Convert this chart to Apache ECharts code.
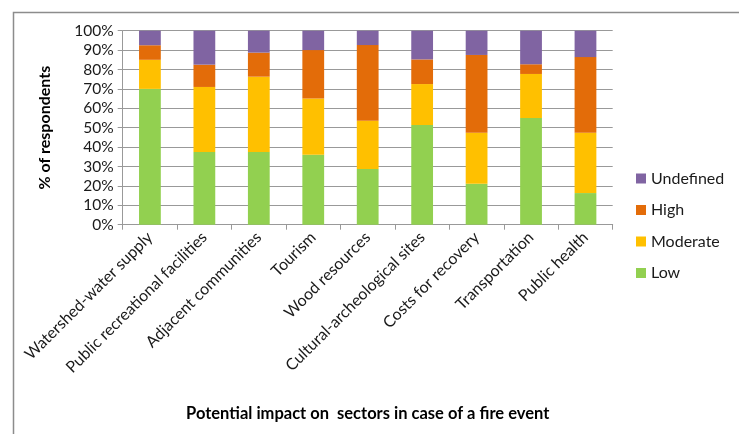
<!DOCTYPE html>
<html>
<head>
<meta charset="utf-8">
<script src="https://cdn.jsdelivr.net/npm/echarts@6/dist/echarts.min.js"></script>
<style>html,body{margin:0;padding:0;background:#fff;}#c{width:739px;height:434px;}</style>
</head>
<body>
<div id="c"></div>
<script>
var categories = ['Watershed-water supply','Public recreational facilities','Adjacent communities','Tourism','Wood resources','Cultural-archeological sites','Costs for recovery','Transportation','Public health'];
var low       = [70, 37.5, 37.5, 36, 28.7, 51.4, 21.1, 55, 16.3];
var moderate  = [15, 33.5, 38.8, 29, 24.9, 21.1, 26.3, 22.7, 31.1];
var high      = [7.5, 11.5, 12.4, 25, 39, 12.7, 40.1, 5, 39];
var undefinedV= [7.5, 17.5, 11.3, 10, 7.4, 14.8, 12.5, 17.3, 13.6];
var seriesNames = ['Low','Moderate','High','Undefined'];
var colors = ['#92D050','#FFC000','#E36C09','#8064A2'];

var chart = echarts.init(document.getElementById('c'));
var font = 'Lato, "Open Sans", sans-serif';
function mk(name, data, color){
  return {name:name, type:'bar', stack:'t', data:data, barWidth:'40%',
    itemStyle:{color:color}, emphasis:{disabled:true}};
}
chart.setOption({
  animation:false,
  textStyle:{fontFamily:font},
  graphic:[{type:'rect', left:11, top:10, shape:{width:800, height:500},
    style:{fill:'none', stroke:'#8c8c8c', lineWidth:1.5}, silent:true}],
  grid:{left:122.7, right:126.3, top:30.7, bottom:209.3, containLabel:false},
  legend:{orient:'vertical', left:636, top:170, padding:0, itemWidth:10, itemHeight:10, itemGap:14.5,
    icon:'rect', data:['Undefined','High','Moderate','Low'],
    textStyle:{fontFamily:font, fontSize:16, color:'#1a1a1a', lineHeight:17}},
  xAxis:{type:'category', data:categories,
    name:'Potential impact on  sectors in case of a fire event', nameLocation:'middle', nameGap:180,
    nameTextStyle:{fontFamily:font, fontWeight:'bold', fontSize:16.5, color:'#000'},
    axisLine:{lineStyle:{color:'#999'}},
    axisTick:{show:true, length:5, lineStyle:{color:'#999'}},
    axisLabel:{rotate:45, interval:0, margin:10, fontFamily:font, fontSize:16, color:'#1a1a1a'}},
  yAxis:{type:'value', min:0, max:100, interval:10,
    name:'% of respondents', nameLocation:'middle', nameGap:70, nameRotate:90,
    nameTextStyle:{fontFamily:font, fontWeight:'bold', fontSize:16, color:'#000'},
    axisLine:{show:true, lineStyle:{color:'#999'}},
    axisTick:{show:true, length:5, lineStyle:{color:'#999'}},
    splitLine:{lineStyle:{color:'#999'}},
    axisLabel:{formatter:'{value}%', fontFamily:font, fontSize:15.5, color:'#1a1a1a', margin:9}},
  series:[mk(seriesNames[0], low, colors[0]), mk(seriesNames[1], moderate, colors[1]),
          mk(seriesNames[2], high, colors[2]), mk(seriesNames[3], undefinedV, colors[3])]
});
</script>
</body>
</html>
